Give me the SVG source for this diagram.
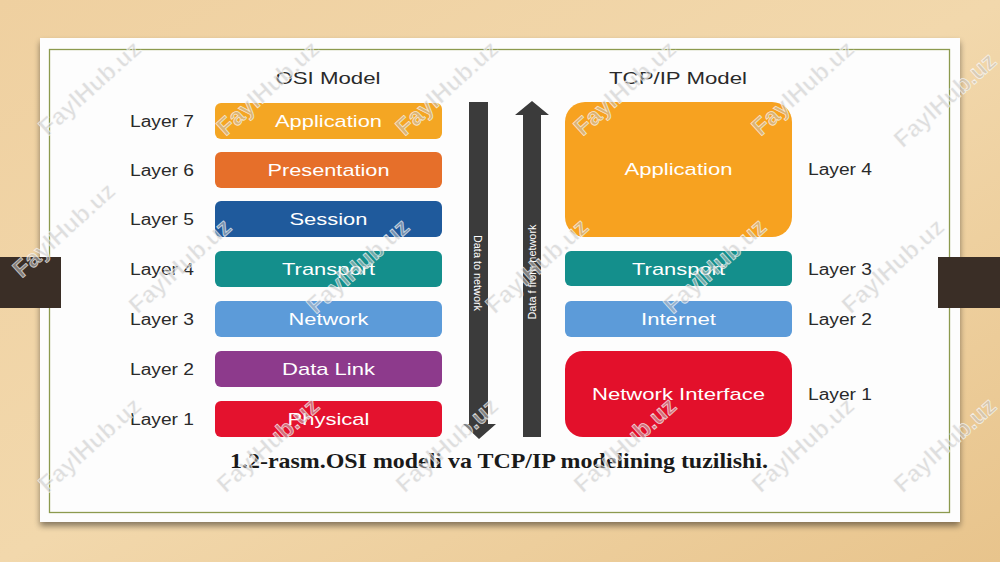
<svg xmlns="http://www.w3.org/2000/svg" width="1000" height="562" viewBox="0 0 1000 562">
<defs>
<linearGradient id="wood" x1="0" y1="0" x2="1" y2="1">
<stop offset="0" stop-color="#EFD0A0"/>
<stop offset="0.5" stop-color="#F2D8AC"/>
<stop offset="1" stop-color="#E8C48C"/>
</linearGradient>
<filter id="sh" x="-5%" y="-5%" width="110%" height="115%">
<feGaussianBlur in="SourceAlpha" stdDeviation="3"/>
<feOffset dy="4"/>
<feComponentTransfer><feFuncA type="linear" slope="0.45"/></feComponentTransfer>
<feMerge><feMergeNode/><feMergeNode in="SourceGraphic"/></feMerge>
</filter>
<style>
.lbl{font-family:"Liberation Sans",Arial,sans-serif;font-size:16px;fill:#2a2a2a;}
.bx{font-family:"Liberation Sans",Arial,sans-serif;font-size:17px;fill:#ffffff;text-anchor:middle;}
.ttl{font-family:"Liberation Sans",Arial,sans-serif;font-size:17px;fill:#2a2a2a;text-anchor:middle;}
.arr{fill:#3b3b3b;}
.at{font-family:"Liberation Sans",Arial,sans-serif;font-size:11px;fill:#ffffff;text-anchor:middle;}
.cap{font-family:"Liberation Serif","Times New Roman",serif;font-size:21px;font-weight:bold;fill:#1a1a1a;text-anchor:middle;}
.wm{font-family:"Liberation Sans",Arial,sans-serif;font-size:24px;font-weight:bold;fill:#c4c4c4;fill-opacity:0.55;stroke:#ffffff;stroke-opacity:0.7;stroke-width:0.8;text-anchor:middle;}
</style>
</defs>
<rect x="0" y="0" width="1000" height="562" fill="url(#wood)"/>
<g id="card">
<rect x="40" y="38" width="920" height="484" fill="#FDFDFD" filter="url(#sh)"/>
<rect x="49.5" y="49.5" width="900" height="463" fill="none" stroke="#8C9A4E" stroke-width="1.3"/>
</g>
<g id="tabs">
<rect x="0" y="257" width="61" height="51" fill="#3A2E26"/>
<rect x="938" y="257" width="62" height="51" fill="#3A2E26"/>
</g>
<g id="titles">
<text class="ttl" x="328" y="84" textLength="105" lengthAdjust="spacingAndGlyphs">OSI Model</text>
<text class="ttl" x="678" y="84" textLength="138" lengthAdjust="spacingAndGlyphs">TCP/IP Model</text>
</g>
<g id="osi-labels">
<text class="lbl" x="130" y="127" textLength="64" lengthAdjust="spacingAndGlyphs">Layer 7</text>
<text class="lbl" x="130" y="176" textLength="64" lengthAdjust="spacingAndGlyphs">Layer 6</text>
<text class="lbl" x="130" y="225" textLength="64" lengthAdjust="spacingAndGlyphs">Layer 5</text>
<text class="lbl" x="130" y="275" textLength="64" lengthAdjust="spacingAndGlyphs">Layer 4</text>
<text class="lbl" x="130" y="325" textLength="64" lengthAdjust="spacingAndGlyphs">Layer 3</text>
<text class="lbl" x="130" y="375" textLength="64" lengthAdjust="spacingAndGlyphs">Layer 2</text>
<text class="lbl" x="130" y="425" textLength="64" lengthAdjust="spacingAndGlyphs">Layer 1</text>
</g>
<g id="osi-application"><rect x="215" y="103" width="227" height="36" rx="6" fill="#F4A623"/><text class="bx" x="328.5" y="127" textLength="107" lengthAdjust="spacingAndGlyphs">Application</text></g>
<g id="osi-presentation"><rect x="215" y="152" width="227" height="36" rx="6" fill="#E66F2A"/><text class="bx" x="328.5" y="176" textLength="122" lengthAdjust="spacingAndGlyphs">Presentation</text></g>
<g id="osi-session"><rect x="215" y="201" width="227" height="36" rx="6" fill="#1F5A9C"/><text class="bx" x="328.5" y="225" textLength="78" lengthAdjust="spacingAndGlyphs">Session</text></g>
<g id="osi-transport"><rect x="215" y="251" width="227" height="36" rx="6" fill="#148F8C"/><text class="bx" x="328.5" y="275" textLength="93" lengthAdjust="spacingAndGlyphs">Transport</text></g>
<g id="osi-network"><rect x="215" y="301" width="227" height="36" rx="6" fill="#5C9BD9"/><text class="bx" x="328.5" y="325" textLength="80" lengthAdjust="spacingAndGlyphs">Network</text></g>
<g id="osi-datalink"><rect x="215" y="351" width="227" height="36" rx="6" fill="#8D3A8C"/><text class="bx" x="328.5" y="375" textLength="93" lengthAdjust="spacingAndGlyphs">Data Link</text></g>
<g id="osi-physical"><rect x="215" y="401" width="227" height="36" rx="6" fill="#E4122E"/><text class="bx" x="328.5" y="425" textLength="82" lengthAdjust="spacingAndGlyphs">Physical</text></g>
<g id="connectors">
<g id="arrow-down">
<path class="arr" d="M469,102 H488 V424 H496 L479,439 L463,424 H469 Z"/>
<text class="at" transform="translate(478,273) rotate(90)" y="4" textLength="76" lengthAdjust="spacingAndGlyphs">Data to network</text>
</g>
<g id="arrow-up">
<path class="arr" d="M523,437 V115 H515 L532,101 L549,115 H541 V437 Z"/>
<text class="at" transform="translate(532,272) rotate(-90)" y="4" textLength="95" lengthAdjust="spacingAndGlyphs">Data f from network</text>
</g>
</g>
<g id="tcp-application"><rect x="565" y="102" width="227" height="135" rx="20" fill="#F7A220"/><text class="bx" x="678.5" y="175" textLength="108" lengthAdjust="spacingAndGlyphs">Application</text></g>
<g id="tcp-transport"><rect x="565" y="251" width="227" height="35" rx="6" fill="#148F8C"/><text class="bx" x="678.5" y="275" textLength="93" lengthAdjust="spacingAndGlyphs">Transport</text></g>
<g id="tcp-internet"><rect x="565" y="301" width="227" height="36" rx="6" fill="#5C9BD9"/><text class="bx" x="678.5" y="325" textLength="75" lengthAdjust="spacingAndGlyphs">Internet</text></g>
<g id="tcp-netif"><rect x="565" y="351" width="227" height="86" rx="18" fill="#E3102B"/><text class="bx" x="678.5" y="400" textLength="173" lengthAdjust="spacingAndGlyphs">Network Interface</text></g>
<g id="tcp-labels">
<text class="lbl" x="808" y="175" textLength="64" lengthAdjust="spacingAndGlyphs">Layer 4</text>
<text class="lbl" x="808" y="275" textLength="64" lengthAdjust="spacingAndGlyphs">Layer 3</text>
<text class="lbl" x="808" y="325" textLength="64" lengthAdjust="spacingAndGlyphs">Layer 2</text>
<text class="lbl" x="808" y="400" textLength="64" lengthAdjust="spacingAndGlyphs">Layer 1</text>
</g>
<g id="caption">
<text class="cap" x="499" y="468" textLength="538" lengthAdjust="spacingAndGlyphs">1.2-rasm.OSI modeli va TCP/IP modelining tuzilishi.</text>
</g>
<g id="watermarks">
<text class="wm" transform="translate(90,88) rotate(-42)" y="8">FaylHub.uz</text>
<text class="wm" transform="translate(268,88) rotate(-42)" y="8">FaylHub.uz</text>
<text class="wm" transform="translate(447,88) rotate(-42)" y="8">FaylHub.uz</text>
<text class="wm" transform="translate(625,88) rotate(-42)" y="8">FaylHub.uz</text>
<text class="wm" transform="translate(803,88) rotate(-42)" y="8">FaylHub.uz</text>
<text class="wm" transform="translate(945,100) rotate(-42)" y="8">FaylHub.uz</text>
<text class="wm" transform="translate(64,230) rotate(-42)" y="8">FaylHub.uz</text>
<text class="wm" transform="translate(180,266) rotate(-42)" y="8">FaylHub.uz</text>
<text class="wm" transform="translate(358,266) rotate(-42)" y="8">FaylHub.uz</text>
<text class="wm" transform="translate(537,266) rotate(-42)" y="8">FaylHub.uz</text>
<text class="wm" transform="translate(715,266) rotate(-42)" y="8">FaylHub.uz</text>
<text class="wm" transform="translate(893,266) rotate(-42)" y="8">FaylHub.uz</text>
<text class="wm" transform="translate(90,445) rotate(-42)" y="8">FaylHub.uz</text>
<text class="wm" transform="translate(268,445) rotate(-42)" y="8">FaylHub.uz</text>
<text class="wm" transform="translate(447,445) rotate(-42)" y="8">FaylHub.uz</text>
<text class="wm" transform="translate(625,445) rotate(-42)" y="8">FaylHub.uz</text>
<text class="wm" transform="translate(803,445) rotate(-42)" y="8">FaylHub.uz</text>
<text class="wm" transform="translate(945,445) rotate(-42)" y="8">FaylHub.uz</text>
</g>
</svg>
